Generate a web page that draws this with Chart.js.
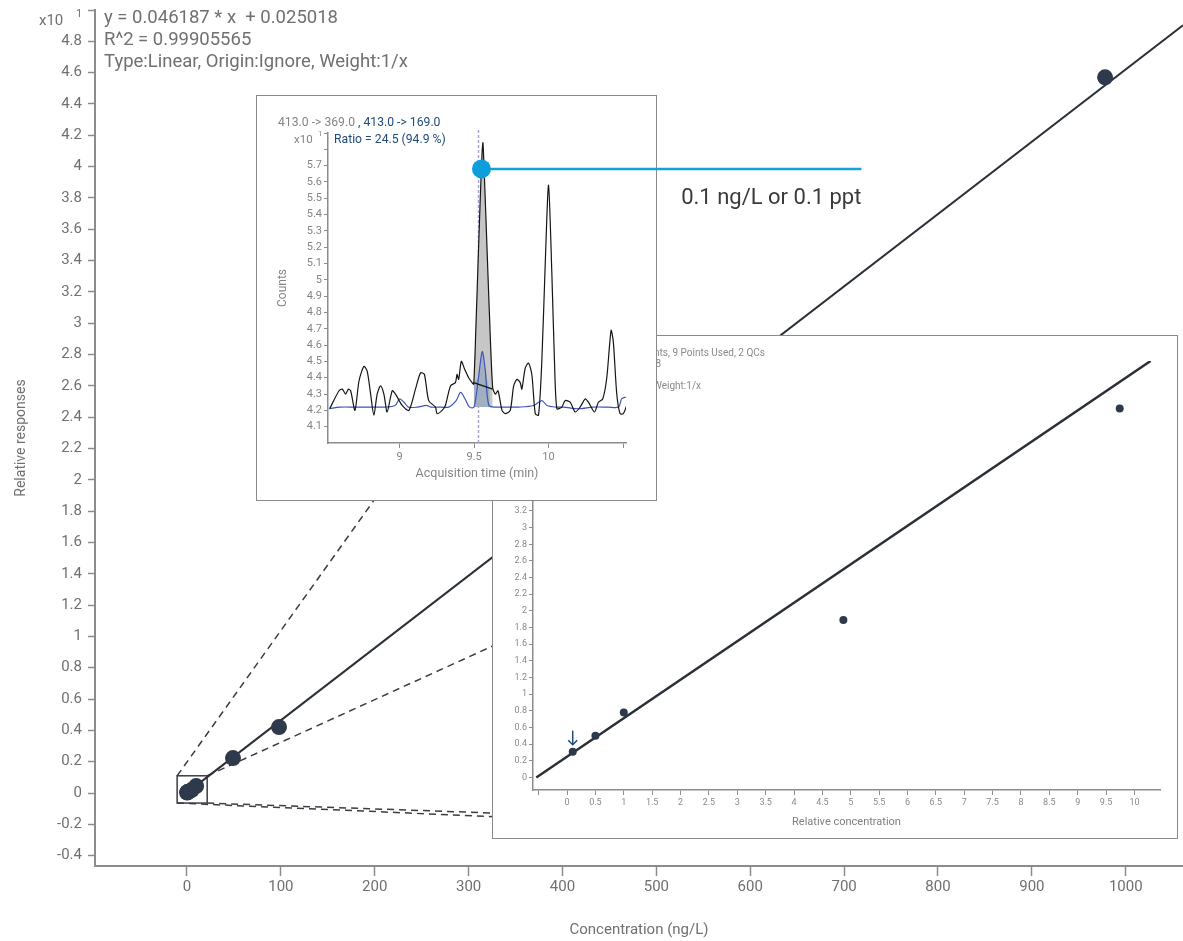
<!DOCTYPE html>
<html><head><meta charset="utf-8">
<script src="https://cdn.jsdelivr.net/npm/chart.js@4.4.0/dist/chart.umd.min.js"></script>
<style>
html,body{margin:0;padding:0;background:#fff;}
#wrap{position:relative;width:1183px;height:941px;overflow:hidden;}
canvas{position:absolute;}
.box{position:absolute;background:#fff;border:1.5px solid #8a8a8a;box-sizing:border-box;}
</style></head><body>
<div id="wrap">
<canvas id="main" width="1183" height="941" style="left:0;top:0;z-index:0"></canvas>
<div class="box" id="calBox" style="left:492px;top:335px;width:686px;height:504px;z-index:1"></div>
<canvas id="cal" width="685" height="503" style="left:492px;top:335px;z-index:2"></canvas>
<div class="box" id="chromBox" style="left:256px;top:95px;width:401px;height:406px;z-index:3"></div>
<canvas id="chrom" width="620" height="404" style="left:257px;top:96px;z-index:4"></canvas>
</div>
<script>
// ---------------- DATA ----------------
// Main calibration curve (Concentration ng/L vs Relative responses, x10^1)
const mainConc = [0.1, 0.5, 1, 4.87, 9.74, 49, 98, 978];
const mainResp = [0.0031, 0.0050, 0.0078, 0.0189, 0.0443, 0.223, 0.421, 4.57];
const mainXTicks = [0, 100, 200, 300, 400, 500, 600, 700, 800, 900, 1000];
const mainYTicks = [-0.4, -0.2, 0, 0.2, 0.4, 0.6, 0.8, 1, 1.2, 1.4, 1.6, 1.8, 2, 2.2, 2.4, 2.6, 2.8, 3, 3.2, 3.4, 3.6, 3.8, 4, 4.2, 4.4, 4.6, 4.8, 5];
const fitSlope = 0.046187;
const fitIntercept = 0.025018;
const equationLines = ['y = 0.046187 * x  + 0.025018', 'R^2 = 0.99905565', 'Type:Linear, Origin:Ignore, Weight:1/x'];
const zoomRegion = {x0: -10.5, x1: 21.5, y0: -0.064, y1: 0.11};

// Zoomed calibration inset (Relative concentration vs response)
const calConc = [0.1, 0.5, 1, 4.87, 9.74];
const calResp = [0.31, 0.50, 0.78, 1.89, 4.43];
const calXTicks = [-0.5, 0, 0.5, 1, 1.5, 2, 2.5, 3, 3.5, 4, 4.5, 5, 5.5, 6, 6.5, 7, 7.5, 8, 8.5, 9, 9.5, 10];
const calYTicks = [0, 0.2, 0.4, 0.6, 0.8, 1, 1.2, 1.4, 1.6, 1.8, 2, 2.2, 2.4, 2.6, 2.8, 3, 3.2, 3.4, 3.6, 3.8, 4, 4.2, 4.4, 4.6, 4.8, 5];
const calInfoLines = ['PFOS - 7 Levels, 7 Levels Used, 11 Points, 9 Points Used, 2 QCs', 'y = 0.46187 * x  + 0.25018', 'R^2 = 0.99905565', 'Type:Linear, Origin:Ignore, Weight:1/x'];

// Chromatogram inset (Acquisition time (min) vs Counts x10^1)
const chromTime = [8.531,8.594,8.616,8.638,8.656,8.672,8.701,8.728,8.761,8.783,8.806,8.828,8.850,8.873,8.895,8.917,8.951,8.973,9.018,9.063,9.107,9.141,9.167,9.196,9.241,9.252,9.286,9.308,9.342,9.375,9.386,9.397,9.415,9.438,9.464,9.487,9.498,9.513,9.527,9.540,9.554,9.560,9.571,9.587,9.603,9.625,9.643,9.661,9.688,9.710,9.743,9.766,9.788,9.810,9.821,9.844,9.866,9.888,9.911,9.933,9.955,9.978,10.000,10.022,10.040,10.056,10.089,10.112,10.145,10.179,10.212,10.246,10.268,10.308,10.335,10.364,10.391,10.420,10.435,10.458,10.480,10.502,10.525];
const chromCounts = [4.21,4.32,4.33,4.30,4.33,4.32,4.20,4.38,4.47,4.44,4.30,4.17,4.30,4.35,4.30,4.19,4.32,4.30,4.23,4.20,4.33,4.43,4.42,4.26,4.22,4.18,4.20,4.23,4.35,4.37,4.42,4.39,4.50,4.45,4.40,4.37,4.36,4.72,5.10,5.45,5.78,5.84,5.60,5.20,4.80,4.34,4.30,4.32,4.20,4.18,4.20,4.35,4.39,4.37,4.33,4.46,4.49,4.42,4.18,4.17,4.50,5.10,5.58,5.05,4.50,4.21,4.22,4.26,4.25,4.19,4.22,4.27,4.25,4.19,4.25,4.27,4.40,4.69,4.62,4.30,4.18,4.18,4.23];
const blueTime = [8.53,8.6,8.7,8.8,8.9,8.97,9.0,9.03,9.06,9.12,9.18,9.21,9.28,9.33,9.38,9.41,9.44,9.47,9.50,9.53,9.555,9.575,9.60,9.65,9.72,9.8,9.9,9.955,9.99,10.05,10.1,10.2,10.3,10.4,10.47,10.49,10.51,10.525];
const blueCounts = [4.21,4.22,4.22,4.22,4.22,4.23,4.27,4.25,4.22,4.22,4.23,4.22,4.22,4.22,4.26,4.31,4.27,4.22,4.22,4.40,4.56,4.45,4.23,4.22,4.22,4.22,4.23,4.26,4.23,4.22,4.22,4.21,4.22,4.22,4.22,4.27,4.28,4.28];
const chromXTicks = [9, 9.5, 10, 10.5];
const chromYTicks = [4.1,4.2,4.3,4.4,4.5,4.6,4.7,4.8,4.9,5,5.1,5.2,5.3,5.4,5.5,5.6,5.7,5.8,5.9];
const peakStart = {x: 9.498, y: 4.37};
const peakEnd = {x: 9.625, y: 4.33};
const qualEnd = 9.605;
const noiseFloor = 4.22;
const retentionTime = 9.53;
const lodPoint = {x: 9.55, y: 5.68};
const lodLineEnd = 12.1;
const lodLabel = '0.1 ng/L or 0.1 ppt';

// ---------------- STYLE ----------------
const FONT = 'Roboto, "Liberation Sans", sans-serif';
const TXT = '#707070';
const AXIS = '#8c8c8c';
const MARK = '#2e3a4b';
const DARKBLUE = '#1d4a78';

function fixedTicks(arr) { return s => { s.ticks = arr.map(v => ({value: v})); }; }
function fitW(w) { return s => { s.width = w; s.paddingTop = 0; s.paddingBottom = 0; s.paddingLeft = 0; s.paddingRight = 0; }; }
function fitH(h) { return s => { s.height = h; s.paddingTop = 0; s.paddingBottom = 0; s.paddingLeft = 0; s.paddingRight = 0; }; }
function trim(v) { return String(Math.round(v * 100) / 100); }
const pts = (xs, ys) => xs.map((x, i) => ({x: x, y: ys[i]}));

// ---------------- MAIN CHART ----------------
const mainXMin = -98, mainXMax = 1061, mainYMin = -0.466, mainYMax = 5;
const fitMain = x => (fitSlope * x + fitIntercept) / 10;

const calBoxEl = document.getElementById('calBox');
const mainDeco = {
  id: 'mainDeco',
  beforeDatasetsDraw(chart) {
    const {ctx, scales: {x, y}} = chart;
    const L = x.getPixelForValue(zoomRegion.x0), R = x.getPixelForValue(zoomRegion.x1);
    const T = y.getPixelForValue(zoomRegion.y1), B = y.getPixelForValue(zoomRegion.y0);
    const il = calBoxEl.offsetLeft, it = calBoxEl.offsetTop;
    const iw = calBoxEl.offsetWidth, ih = calBoxEl.offsetHeight;
    const ir = il + iw - 1, ib = it + ih - 2;
    ctx.save();
    ctx.strokeStyle = '#3a3d44'; ctx.lineWidth = 1.5;
    ctx.strokeRect(L, T, R - L, B - T);
    ctx.setLineDash([7, 5]);
    const seg = (a, b, c, d) => { ctx.beginPath(); ctx.moveTo(a, b); ctx.lineTo(c, d); ctx.stroke(); };
    seg(L, T, il, it);
    seg(R, T, ir, it);
    seg(R, B, ir, ib);
    seg(L, B, il + iw * 0.69, ib);
    ctx.restore();
  },
  afterDraw(chart) {
    const {ctx} = chart;
    ctx.save();
    ctx.fillStyle = TXT; ctx.textBaseline = 'middle'; ctx.textAlign = 'left';
    ctx.font = '15px ' + FONT; ctx.fillText('x10', 39, 21);
    ctx.font = '11px ' + FONT; ctx.fillText('1', 76, 14);
    ctx.font = '18.5px ' + FONT;
    equationLines.forEach((t, i) => ctx.fillText(t, 104, 18 + i * 22));
    ctx.restore();
  }
};

new Chart(document.getElementById('main'), {
  type: 'scatter',
  data: {datasets: [
    {data: [{x: 0, y: fitMain(0)}, {x: mainXMax, y: fitMain(mainXMax)}], showLine: true, borderColor: '#2b2f38', borderWidth: 2, pointRadius: 0, order: 2},
    {data: pts(mainConc, mainResp), pointRadius: 8, backgroundColor: MARK, borderColor: MARK, borderWidth: 0, order: 1}
  ]},
  options: {
    responsive: false, animation: false, devicePixelRatio: 1, events: [],
    layout: {autoPadding: false, padding: {top: 10, left: 0, right: 0, bottom: 0}},
    plugins: {legend: {display: false}, tooltip: {enabled: false}},
    scales: {
      x: {type: 'linear', min: mainXMin, max: mainXMax,
        afterBuildTicks: fixedTicks(mainXTicks), afterFit: fitH(75),
        grid: {display: true, drawOnChartArea: false, drawTicks: true, tickLength: 10, tickColor: AXIS, tickWidth: 1.5},
        border: {display: true, color: AXIS, width: 2},
        ticks: {color: TXT, font: {family: FONT, size: 15}, padding: 2, maxRotation: 0, autoSkip: false, callback: v => trim(v)},
        title: {display: true, text: 'Concentration (ng/L)', color: TXT, font: {family: FONT, size: 15}, padding: {top: 0, bottom: 2}}
      },
      y: {type: 'linear', min: mainYMin, max: mainYMax,
        afterBuildTicks: fixedTicks(mainYTicks), afterFit: fitW(95),
        grid: {display: true, drawOnChartArea: false, drawTicks: true, tickLength: 7, tickColor: AXIS, tickWidth: 1.5},
        border: {display: true, color: AXIS, width: 2},
        ticks: {color: TXT, font: {family: FONT, size: 15}, padding: 6, autoSkip: false, callback: v => v >= 4.95 ? '' : trim(v)},
        title: {display: true, text: 'Relative responses', color: TXT, font: {family: FONT, size: 14}, padding: {top: 13, bottom: 0}}
      }
    }
  },
  plugins: [mainDeco]
});

// ---------------- CALIBRATION INSET ----------------
const calSlope = fitSlope * 10, calIntercept = fitIntercept * 10;
const calYMin = -0.15, calYMax = 5;
const calX = yv => (yv - calIntercept) / calSlope;

const calDeco = {
  id: 'calDeco',
  afterDatasetsDraw(chart) {
    const {ctx, scales: {x, y}} = chart;
    const px = x.getPixelForValue(calConc[0]), py = y.getPixelForValue(calResp[0]);
    ctx.save();
    ctx.strokeStyle = DARKBLUE; ctx.lineWidth = 1.5;
    ctx.beginPath(); ctx.moveTo(px, py - 21); ctx.lineTo(px, py - 7); ctx.stroke();
    ctx.beginPath(); ctx.moveTo(px - 4.5, py - 11.5); ctx.lineTo(px, py - 7); ctx.lineTo(px + 4.5, py - 11.5); ctx.stroke();
    ctx.fillStyle = '#8a8a8a'; ctx.font = '10px ' + FONT; ctx.textBaseline = 'middle'; ctx.textAlign = 'right';
    const rights = [273, 169, 150, 209];
    calInfoLines.forEach((t, i) => ctx.fillText(t, rights[i], 18 + i * 11.3));
    ctx.restore();
  }
};

new Chart(document.getElementById('cal'), {
  type: 'scatter',
  data: {datasets: [
    {data: [{x: calX(0), y: 0}, {x: calX(calYMax), y: calYMax}], showLine: true, borderColor: '#2b2f38', borderWidth: 2.5, pointRadius: 0, order: 2},
    {data: pts(calConc, calResp), pointRadius: 4, backgroundColor: MARK, borderColor: MARK, borderWidth: 0, order: 1}
  ]},
  options: {
    responsive: false, animation: false, devicePixelRatio: 1, events: [],
    layout: {autoPadding: false, padding: {top: 26, left: 0, right: 17, bottom: 0}},
    plugins: {legend: {display: false}, tooltip: {enabled: false}},
    scales: {
      x: {type: 'linear', min: -0.6, max: 10.45,
        afterBuildTicks: fixedTicks(calXTicks), afterFit: fitH(48),
        grid: {display: true, drawOnChartArea: false, drawTicks: true, tickLength: 5, tickColor: AXIS, tickWidth: 1},
        border: {display: true, color: AXIS, width: 1.5},
        ticks: {color: '#8a8a8a', font: {family: FONT, size: 9}, padding: 2, maxRotation: 0, autoSkip: false, callback: v => v < 0 ? '' : trim(v)},
        title: {display: true, text: 'Relative concentration', color: '#808080', font: {family: FONT, size: 11}, padding: {top: 0, bottom: 9}}
      },
      y: {type: 'linear', min: calYMin, max: calYMax,
        afterBuildTicks: fixedTicks(calYTicks), afterFit: fitW(41),
        grid: {display: true, drawOnChartArea: false, drawTicks: true, tickLength: 4, tickColor: AXIS, tickWidth: 1},
        border: {display: true, color: AXIS, width: 1.5},
        ticks: {color: '#8a8a8a', font: {family: FONT, size: 9}, padding: 2, autoSkip: false, callback: v => trim(v)}
      }
    }
  },
  plugins: [calDeco]
});

// ---------------- CHROMATOGRAM INSET ----------------
const baselineAt = t => peakStart.y + (peakEnd.y - peakStart.y) * (t - peakStart.x) / (peakEnd.x - peakStart.x);
const blackPts = pts(chromTime, chromCounts);
const bluePts = pts(blueTime, blueCounts);
const peakPts = [{x: peakStart.x, y: peakStart.y}].concat(blackPts.filter(p => p.x > peakStart.x && p.x < peakEnd.x), [{x: peakEnd.x, y: peakEnd.y}]);
const qualPts = [{x: peakStart.x, y: baselineAt(peakStart.x)}].concat(
  bluePts.filter(p => p.x > peakStart.x && p.x < qualEnd).map(p => ({x: p.x, y: Math.max(p.y, baselineAt(p.x))})),
  [{x: qualEnd, y: baselineAt(qualEnd)}]);

const chromDeco = {
  id: 'chromDeco',
  beforeDatasetsDraw(chart) {
    const {ctx, chartArea, scales: {x}} = chart;
    const px = x.getPixelForValue(retentionTime);
    ctx.save();
    ctx.strokeStyle = '#a4a4d8'; ctx.lineWidth = 1.5; ctx.setLineDash([3, 2]);
    ctx.beginPath(); ctx.moveTo(px, chartArea.top - 3); ctx.lineTo(px, chartArea.bottom); ctx.stroke();
    ctx.restore();
  },
  afterDraw(chart) {
    const {ctx, scales: {x, y}} = chart;
    ctx.save();
    ctx.textBaseline = 'middle'; ctx.textAlign = 'left';
    ctx.font = '12.2px ' + FONT;
    ctx.fillStyle = '#858585';
    const a = '413.0 -> 369.0 ';
    ctx.fillText(a, 21, 27);
    ctx.fillStyle = DARKBLUE;
    ctx.fillText(', 413.0 -> 169.0', 21 + ctx.measureText(a).width, 27);
    ctx.fillStyle = '#858585';
    ctx.font = '11.5px ' + FONT;
    ctx.fillText('x10', 37, 44);
    ctx.font = '8px ' + FONT; ctx.fillText('1', 61, 38);
    ctx.font = '12.2px ' + FONT; ctx.fillStyle = DARKBLUE;
    ctx.fillText('Ratio = 24.5 (94.9 %)', 77, 44);
    ctx.font = '22px ' + FONT; ctx.fillStyle = '#3a3a3a'; ctx.textAlign = 'right';
    ctx.fillText(lodLabel, x.getPixelForValue(lodLineEnd), y.getPixelForValue(lodPoint.y) + 30);
    ctx.restore();
  }
};

new Chart(document.getElementById('chrom'), {
  type: 'scatter',
  data: {datasets: [
    {data: peakPts, showLine: true, borderWidth: 0, borderColor: 'rgba(0,0,0,0)', pointRadius: 0, fill: {value: noiseFloor}, backgroundColor: '#c6c6c6', order: 6},
    {data: qualPts, showLine: true, borderWidth: 0, borderColor: 'rgba(0,0,0,0)', pointRadius: 0, fill: {value: noiseFloor}, backgroundColor: 'rgba(70,115,175,0.28)', order: 5},
    {data: bluePts, showLine: true, borderColor: '#3a56b8', borderWidth: 1.2, pointRadius: 0, tension: 0.3, order: 4},
    {data: blackPts, showLine: true, borderColor: '#151515', borderWidth: 1.2, pointRadius: 0, tension: 0.25, order: 3},
    {data: [peakStart, peakEnd], showLine: true, borderColor: '#151515', borderWidth: 1.2, pointRadius: 0, order: 2},
    {data: [lodPoint, {x: lodLineEnd, y: lodPoint.y}], showLine: true, borderColor: '#14a2dc', borderWidth: 2.5,
      pointRadius: [9.5, 0], pointBackgroundColor: '#0d9fdb', pointBorderWidth: 0, clip: false, order: 1}
  ]},
  options: {
    responsive: false, animation: false, devicePixelRatio: 1, events: [],
    layout: {autoPadding: false, padding: {top: 37, left: 0, right: 251, bottom: 0}},
    plugins: {legend: {display: false}, tooltip: {enabled: false}},
    scales: {
      x: {type: 'linear', min: 8.52, max: 10.52,
        afterBuildTicks: fixedTicks(chromXTicks), afterFit: fitH(57),
        grid: {display: true, drawOnChartArea: false, drawTicks: true, tickLength: 5, tickColor: AXIS, tickWidth: 1},
        border: {display: true, color: AXIS, width: 1.5},
        ticks: {color: '#858585', font: {family: FONT, size: 11}, padding: 3, maxRotation: 0, autoSkip: false, callback: v => v > 10.4 ? '' : trim(v)},
        title: {display: true, text: 'Acquisition time (min)', color: '#858585', font: {family: FONT, size: 12.5}, padding: {top: 0, bottom: 19}}
      },
      y: {type: 'linear', min: 4.0, max: 5.9,
        afterBuildTicks: fixedTicks(chromYTicks), afterFit: fitW(71),
        grid: {display: true, drawOnChartArea: false, drawTicks: true, tickLength: 4, tickColor: AXIS, tickWidth: 1},
        border: {display: true, color: AXIS, width: 1.5},
        ticks: {color: '#858585', font: {family: FONT, size: 11}, padding: 2, autoSkip: false, callback: v => v > 5.75 ? '' : trim(v)},
        title: {display: true, text: 'Counts', color: '#858585', font: {family: FONT, size: 12}, padding: {top: 19, bottom: 0}}
      }
    }
  },
  plugins: [chromDeco]
});
</script>
</body></html>
